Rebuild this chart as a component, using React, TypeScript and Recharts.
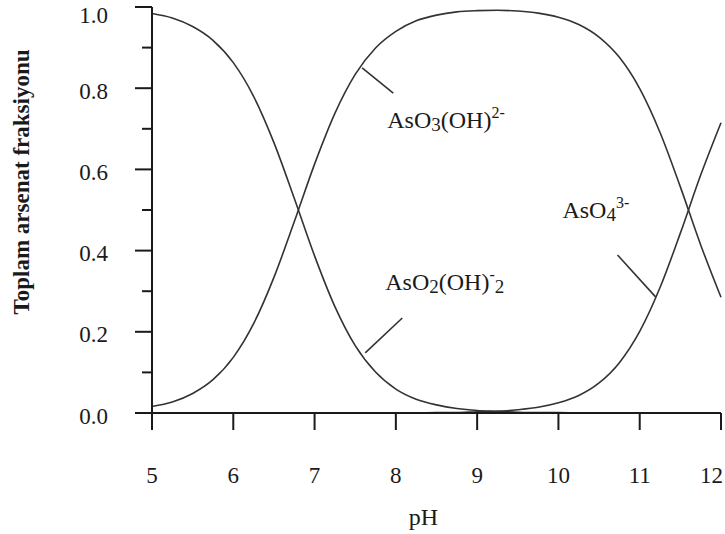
import React from 'react';
import { LineChart, Line, XAxis, YAxis, ReferenceLine, ReferenceDot } from 'recharts';

// pH grid and fraction of each arsenate species
const PH = [5, 5.25, 5.5, 5.75, 6, 6.25, 6.5, 6.75, 7, 7.25, 7.5, 7.75, 8, 8.25, 8.5, 8.75, 9, 9.25, 9.5, 9.75, 10, 10.25, 10.5, 10.75, 11, 11.25, 11.5, 11.75, 12];
const H2ASO4 = [0.984, 0.973, 0.952, 0.918, 0.863, 0.78, 0.666, 0.529, 0.387, 0.262, 0.166, 0.101, 0.059, 0.034, 0.02, 0.011, 0.006, 0.004, 0.002, 0.001, 0.001, 0, 0, 0, 0, 0, 0, 0, 0];
const HASO4 = [0.016, 0.027, 0.048, 0.082, 0.137, 0.22, 0.334, 0.471, 0.613, 0.738, 0.834, 0.899, 0.94, 0.966, 0.98, 0.988, 0.991, 0.992, 0.99, 0.985, 0.975, 0.957, 0.926, 0.876, 0.799, 0.691, 0.557, 0.414, 0.285];
const ASO4 = [0, 0, 0, 0, 0, 0, 0, 0, 0, 0, 0, 0, 0, 0, 0.001, 0.001, 0.003, 0.004, 0.008, 0.014, 0.025, 0.043, 0.074, 0.124, 0.201, 0.309, 0.443, 0.586, 0.715];

const X_TICKS = [5, 6, 7, 8, 9, 10, 11, 12];
const Y_TICKS = [0, 0.1, 0.2, 0.3, 0.4, 0.5, 0.6, 0.7, 0.8, 0.9, 1.0];

// pointer lines from labels to curves, [pH, fraction]
const POINTER_A = [[7.585, 0.85], [7.968, 0.788]];
const POINTER_B = [[7.623, 0.148], [8.079, 0.234]];
const POINTER_C = [[10.727, 0.389], [11.195, 0.286]];

const data = PH.map((ph, i) => ({ ph, h2: H2ASO4[i], h1: HASO4[i], h0: ASO4[i] }));

const FONT = '"Liberation Serif", "Times New Roman", serif';
const INK = '#1a1a1a';
const CURVE = '#333';

const isMajor = (v: number) => Math.round(v * 10) % 2 === 0;

const LeftTick = ({ x, y, payload }: any) => {
  const major = isMajor(payload.value);
  return (
    <g>
      <line x1={x - (major ? 17 : 10)} x2={x} y1={y} y2={y} stroke={INK} strokeWidth={2} />
      {major && (
        <text x={x - 44} y={Math.max(y + 3, 15)} textAnchor="end" dominantBaseline="central"
          fontFamily={FONT} fontSize={23} fill={INK}>
          {payload.value.toFixed(1)}
        </text>
      )}
    </g>
  );
};

const RightTick = ({ x, y, payload }: any) => {
  const major = isMajor(payload.value);
  return <line x1={x - (major ? 17 : 10)} x2={x} y1={y} y2={y} stroke={INK} strokeWidth={2} />;
};

const BottomTick = ({ x, y, payload }: any) => {
  const last = payload.value === 12;
  return (
    <g>
      <line x1={x} x2={x} y1={y} y2={y + 17} stroke={INK} strokeWidth={2} />
      <text x={last ? x + 2 : x} y={y + 62} textAnchor={last ? 'end' : 'middle'} dominantBaseline="central"
        fontFamily={FONT} fontSize={23} fill={INK}>
        {payload.value}
      </text>
    </g>
  );
};

const TopTick = ({ x, y }: any) => <line x1={x} x2={x} y1={y} y2={y + 17} stroke={INK} strokeWidth={2} />;

const Species = ({ cx, cy, name }: any) => {
  const base = { fontFamily: FONT, fill: INK, fontSize: 24 };
  if (name === 'a')
    return (
      <text x={cx} y={cy} {...base}>
        AsO<tspan fontSize={19} dy={3}>3</tspan>
        <tspan dy={-3}>(OH)</tspan>
        <tspan fontSize={16} dy={-10}>2-</tspan>
      </text>
    );
  if (name === 'b')
    return (
      <text x={cx} y={cy} {...base}>
        AsO<tspan fontSize={19} dy={3}>2</tspan>
        <tspan dy={-3}>(OH)</tspan>
        <tspan fontSize={16} dy={-10}>-</tspan>
        <tspan fontSize={19} dy={13}>2</tspan>
      </text>
    );
  return (
    <text x={cx} y={cy} {...base}>
      AsO<tspan fontSize={19} dy={3}>4</tspan>
      <tspan fontSize={16} dy={-13}>3-</tspan>
    </text>
  );
};

const seg = (p: number[][]) => [{ x: p[0][0], y: p[0][1] }, { x: p[1][0], y: p[1][1] }];

export default function App() {
  return (
    <div style={{ position: 'absolute', left: 0, top: 0, background: '#fff' }}>
      <LineChart width={725} height={534} data={data} margin={{ top: 7, right: 4, bottom: 0, left: 0 }}>
        <XAxis dataKey="ph" type="number" domain={[5, 12]} ticks={X_TICKS} interval={0}
          height={121} tickSize={0} tickMargin={0} tickLine={false}
          axisLine={{ stroke: INK, strokeWidth: 2 }} tick={<BottomTick />}
          label={{
            content: ({ viewBox }: any) => (
              <text x={viewBox.x + viewBox.width / 2 - 13} y={viewBox.y + 112} textAnchor="middle"
                fontFamily={FONT} fontSize={24} fill={INK}>pH</text>
            ),
          }} />
        <XAxis xAxisId="top" orientation="top" dataKey="ph" type="number" domain={[5, 12]} ticks={X_TICKS}
          interval={0} height={0} mirror tickSize={0} tickMargin={0} tickLine={false}
          axisLine={{ stroke: INK, strokeWidth: 2 }} tick={<TopTick />} />
        <YAxis type="number" domain={[0, 1]} ticks={Y_TICKS} interval={0} width={152}
          tickSize={0} tickMargin={0} tickLine={false}
          axisLine={{ stroke: INK, strokeWidth: 2 }} tick={<LeftTick />}
          label={{
            content: ({ viewBox }: any) => {
              const cx = viewBox.x + 21;
              const cy = viewBox.y + viewBox.height / 2 - 28;
              return (
                <text x={cx} y={cy} transform={`rotate(-90 ${cx} ${cy})`} textAnchor="middle"
                  dominantBaseline="central" fontFamily={FONT} fontWeight="bold" fontSize={23} fill={INK}>
                  Toplam arsenat fraksiyonu
                </text>
              );
            },
          }} />
        <YAxis yAxisId="right" orientation="right" type="number" domain={[0, 1]} ticks={Y_TICKS} interval={0}
          width={0} mirror tickSize={0} tickMargin={0} tickLine={false}
          axisLine={{ stroke: INK, strokeWidth: 2 }} tick={<RightTick />} />

        <Line dataKey="h2" type="monotone" stroke={CURVE} strokeWidth={1.6} dot={false} isAnimationActive={false} />
        <Line dataKey="h1" type="monotone" stroke={CURVE} strokeWidth={1.6} dot={false} isAnimationActive={false} />
        <Line dataKey="h0" type="monotone" stroke={CURVE} strokeWidth={1.6} dot={false} isAnimationActive={false} />

        <ReferenceLine segment={seg(POINTER_A)} stroke={CURVE} strokeWidth={1.6} />
        <ReferenceLine segment={seg(POINTER_B)} stroke={CURVE} strokeWidth={1.6} />
        <ReferenceLine segment={seg(POINTER_C)} stroke={CURVE} strokeWidth={1.6} />

        <ReferenceDot x={7.894} y={0.702} r={0} shape={(p: any) => <Species {...p} name="a" />} />
        <ReferenceDot x={7.869} y={0.303} r={0} shape={(p: any) => <Species {...p} name="b" />} />
        <ReferenceDot x={10.049} y={0.48} r={0} shape={(p: any) => <Species {...p} name="c" />} />
      </LineChart>
    </div>
  );
}
